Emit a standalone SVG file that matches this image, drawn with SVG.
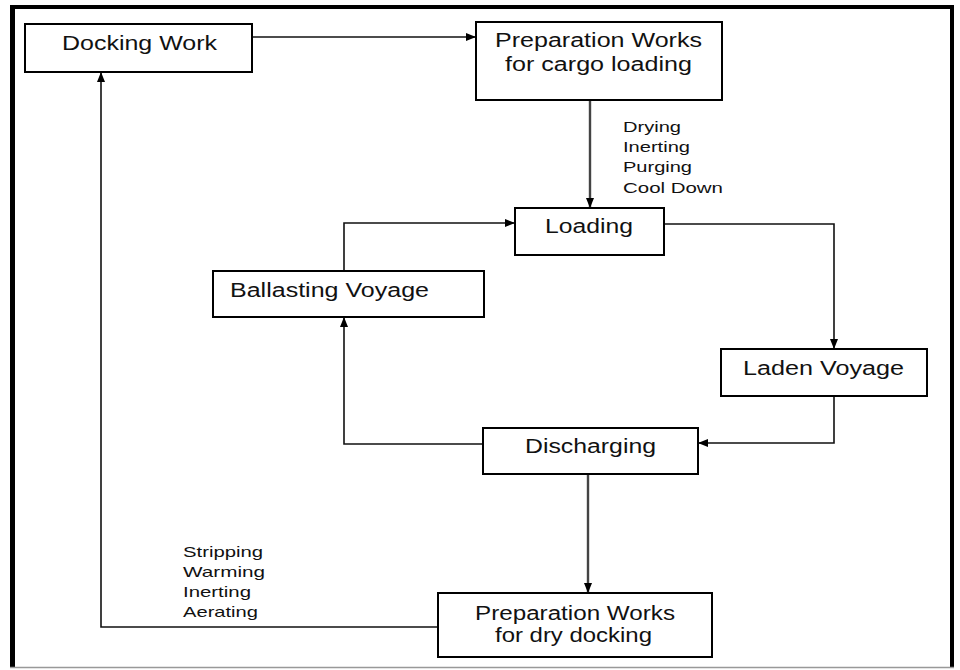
<svg xmlns="http://www.w3.org/2000/svg" width="960" height="670" viewBox="0 0 960 670">
<style>
.box{fill:#fff;stroke:#000;stroke-width:2}
.t{font-family:"Liberation Sans",Arial,sans-serif;font-size:20px;fill:#111}
.s{font-family:"Liberation Sans",Arial,sans-serif;font-size:15px;fill:#111}
.c{fill:none;stroke:#111;stroke-width:1.6}
.g{fill:none;stroke:#444;stroke-width:2.4}
</style>
<defs>
<marker id="a" markerWidth="10" markerHeight="8" refX="9" refY="4" orient="auto" markerUnits="userSpaceOnUse">
<path d="M0,0 L10,4 L0,8 Z" fill="#000"/>
</marker>
</defs>
<rect width="960" height="670" fill="#fff"/>
<g id="frame">
<line x1="10" y1="7" x2="954" y2="7" stroke="#000" stroke-width="4"/>
<line x1="12.5" y1="5" x2="12.5" y2="668" stroke="#000" stroke-width="5"/>
<line x1="952" y1="5" x2="952" y2="668" stroke="#000" stroke-width="4"/>
<line x1="10" y1="667.5" x2="954" y2="667.5" stroke="#999" stroke-width="1.5"/>
</g>
<g id="connectors">
<path class="c" d="M252,37 H475" marker-end="url(#a)"/>
<path class="g" d="M590,100 V207" marker-end="url(#a)"/>
<path class="c" d="M344,271 V223 H514" marker-end="url(#a)"/>
<path class="c" d="M664,224 H834 V348" marker-end="url(#a)"/>
<path class="c" d="M834,396 V443 H699" marker-end="url(#a)"/>
<path class="c" d="M483,444 H344 V318" marker-end="url(#a)"/>
<path class="g" d="M588,474 V592" marker-end="url(#a)"/>
<path class="c" d="M438,627 H101 V73" marker-end="url(#a)"/>
</g>
<g id="docking-work">
<rect class="box" x="25" y="24" width="227" height="48"/>
<text class="t" x="62" y="50" textLength="155" lengthAdjust="spacingAndGlyphs">Docking Work</text>
</g>
<g id="prep-cargo">
<rect class="box" x="476" y="22" width="246" height="78"/>
<text class="t" x="495" y="47" textLength="207" lengthAdjust="spacingAndGlyphs">Preparation Works</text>
<text class="t" x="505" y="71" textLength="187" lengthAdjust="spacingAndGlyphs">for cargo loading</text>
</g>
<g id="label-cargo">
<text class="s" x="623" y="132" textLength="58" lengthAdjust="spacingAndGlyphs">Drying</text>
<text class="s" x="623" y="152" textLength="67" lengthAdjust="spacingAndGlyphs">Inerting</text>
<text class="s" x="623" y="172" textLength="69" lengthAdjust="spacingAndGlyphs">Purging</text>
<text class="s" x="623" y="193" textLength="100" lengthAdjust="spacingAndGlyphs">Cool Down</text>
</g>
<g id="loading">
<rect class="box" x="515" y="208" width="149" height="47"/>
<text class="t" x="545" y="233" textLength="88" lengthAdjust="spacingAndGlyphs">Loading</text>
</g>
<g id="ballasting">
<rect class="box" x="213" y="271" width="271" height="46"/>
<text class="t" x="230" y="297" textLength="199" lengthAdjust="spacingAndGlyphs">Ballasting Voyage</text>
</g>
<g id="laden">
<rect class="box" x="721" y="349" width="206" height="47"/>
<text class="t" x="743" y="375" textLength="161" lengthAdjust="spacingAndGlyphs">Laden Voyage</text>
</g>
<g id="discharging">
<rect class="box" x="483" y="428" width="215" height="46"/>
<text class="t" x="525" y="453" textLength="131" lengthAdjust="spacingAndGlyphs">Discharging</text>
</g>
<g id="prep-dry">
<rect class="box" x="438" y="593" width="274" height="64"/>
<text class="t" x="475" y="620" textLength="200" lengthAdjust="spacingAndGlyphs">Preparation Works</text>
<text class="t" x="495" y="642" textLength="157" lengthAdjust="spacingAndGlyphs">for dry docking</text>
</g>
<g id="label-dry">
<text class="s" x="183" y="557" textLength="80" lengthAdjust="spacingAndGlyphs">Stripping</text>
<text class="s" x="183" y="577" textLength="82" lengthAdjust="spacingAndGlyphs">Warming</text>
<text class="s" x="183" y="597" textLength="68" lengthAdjust="spacingAndGlyphs">Inerting</text>
<text class="s" x="183" y="617" textLength="75" lengthAdjust="spacingAndGlyphs">Aerating</text>
</g>
</svg>
